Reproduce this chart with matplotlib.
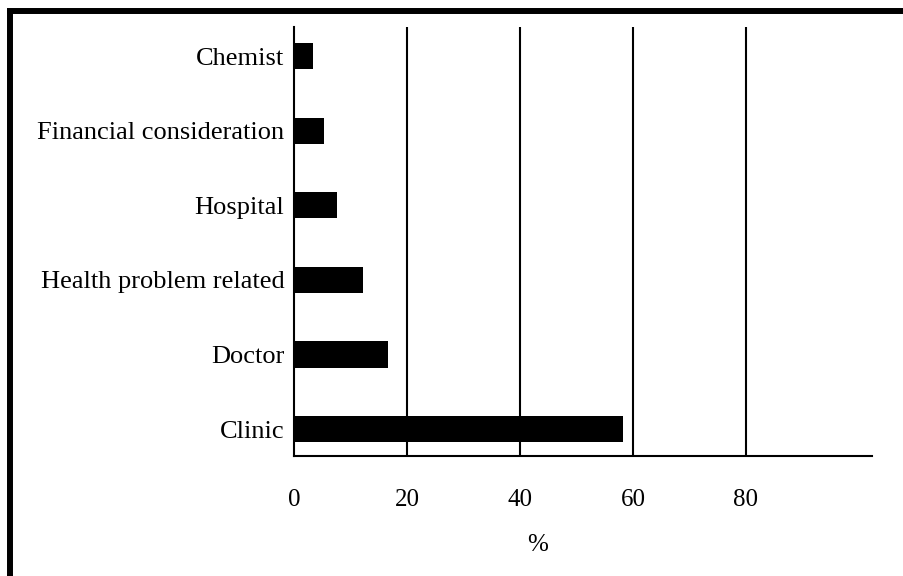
import matplotlib.pyplot as plt
from matplotlib.lines import Line2D

# categories from bottom to top
categories = ['Clinic', 'Doctor', 'Health problem related', 'Hospital',
              'Financial consideration', 'Chemist']
percent = [58.2, 16.6, 12.3, 7.7, 5.4, 3.3]
xticks = [0, 20, 40, 60, 80]

plt.rcParams['font.family'] = ['Liberation Serif', 'DejaVu Serif']

fig = plt.figure(figsize=(9.04, 5.76), dpi=100)
ax = fig.add_axes([0.3252, 0.2083, 0.6394, 0.7448])

ypos = list(range(len(categories)))
ax.barh(ypos, percent, height=0.35, color='black', zorder=3)

ax.set_xlim(0, 102.3)
ax.set_ylim(-0.36, 5.39)
ax.set_xticks(xticks)
ax.set_xticklabels([str(t) for t in xticks], fontsize=18)
ax.set_yticks(ypos)
ax.set_yticklabels(categories, fontsize=19)
ax.tick_params(axis='x', length=0, pad=24)
ax.tick_params(axis='y', length=0, pad=7)

# vertical grid lines
for t in xticks[1:]:
    ax.axvline(t, color='black', lw=1.5, zorder=2)

for s in ['top', 'right']:
    ax.spines[s].set_visible(False)
for s in ['left', 'bottom']:
    ax.spines[s].set_linewidth(1.5)

ax.set_xlabel('%', fontsize=18)
ax.xaxis.set_label_coords(0.422, -0.207)
ax.xaxis.label.set_va('center')

# frame on left and top edges of the picture
fig.add_artist(Line2D([0.0111, 0.0111], [0, 0.9809], color='black', lw=4.3,
                      transform=fig.transFigure, solid_capstyle='butt'))
fig.add_artist(Line2D([0.0078, 1.0], [0.9809, 0.9809], color='black', lw=4.3,
                      transform=fig.transFigure, solid_capstyle='butt'))

fig.savefig('out.png', dpi=100)
